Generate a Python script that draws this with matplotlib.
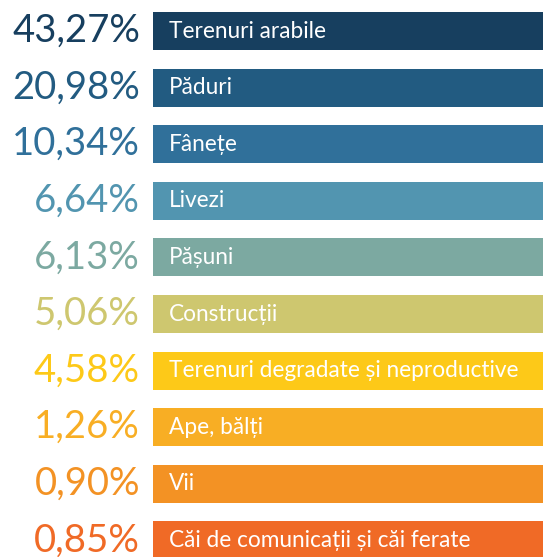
import matplotlib
matplotlib.use('agg')
import matplotlib.pyplot as plt
import numpy as np

# land use shares (percent) and category names
categories = ['Terenuri arabile', 'Păduri', 'Fânețe', 'Livezi', 'Pășuni',
              'Construcții', 'Terenuri degradate și neproductive',
              'Ape, bălți', 'Vii', 'Căi de comunicații și căi ferate']
shares = [43.27, 20.98, 10.34, 6.64, 6.13, 5.06, 4.58, 1.26, 0.90, 0.85]
colors = ['#173f5f', '#225b81', '#30709a', '#5295b0', '#7ca9a1',
          '#cec76f', '#fdc918', '#f8ae24', '#f39224', '#f06a26']

plt.rcParams['font.family'] = ['Lato', 'DejaVu Sans']

fig = plt.figure(figsize=(5.43, 5.57), dpi=100)
ax = fig.add_axes([0, 0, 1, 1])

y = np.arange(len(categories))
bar_left = 153
bar_span = 400

# every category gets the same bar; the value is shown as text
ax.barh(y, [bar_span] * len(y), left=bar_left, height=0.67, color=colors)

for i, (name, val, c) in enumerate(zip(categories, shares, colors)):
    label = f'{val:.2f}%'.replace('.', ',')
    ax.text(140, i, label, ha='right', va='center', color=c, fontsize=27.5)
    ax.text(bar_left + 16, i, name, ha='left', va='center', color='white', fontsize=16.3)

ax.set_xlim(0, 543)
ax.set_ylim(9.293, -0.548)
ax.axis('off')

fig.savefig('out.png', dpi=100)
